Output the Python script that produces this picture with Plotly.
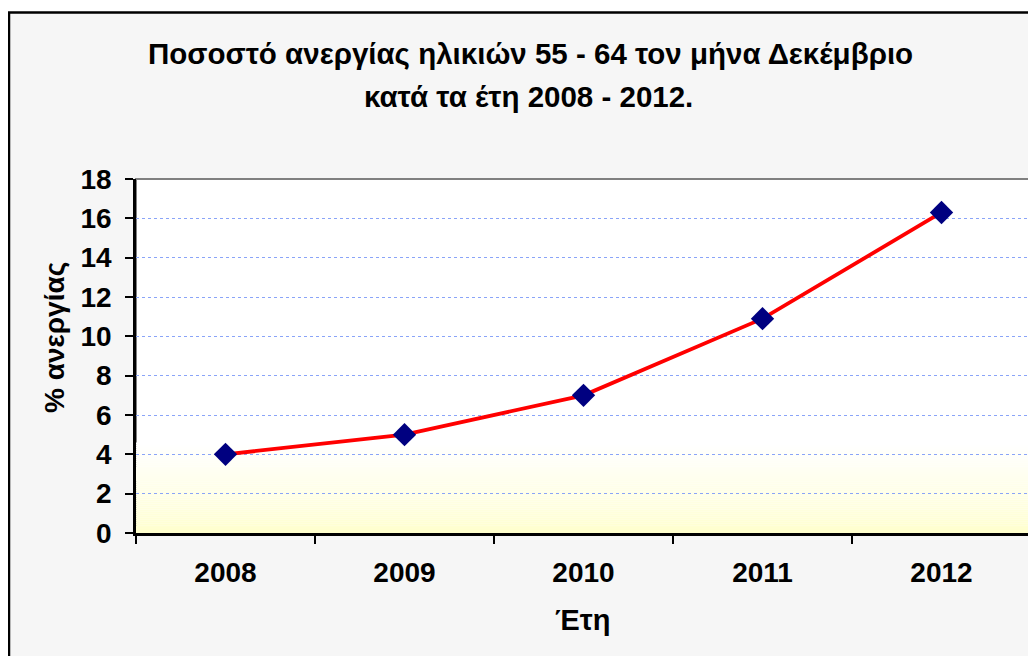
import plotly.graph_objects as go

years = ["2008", "2009", "2010", "2011", "2012"]
rates = [4.0, 5.0, 7.0, 10.9, 16.3]
y_ticks = [0, 2, 4, 6, 8, 10, 12, 14, 16, 18]

title_line1 = "Ποσοστό ανεργίας ηλικιών 55 - 64 τον μήνα Δεκέμβριο"
title_line2 = "κατά τα έτη 2008 - 2012."
y_title = "% ανεργίας"
x_title = "Έτη"

# the page body adds an 8px offset; positions below are in figure pixels
OFF = 8
W, H = 1036, 656
L, R, T, B = 136 - OFF, 1031 - OFF, 179 - OFF, 533 - OFF
FONT = "Liberation Sans, Arial, sans-serif"


def px(x):
    return (x - OFF - L) / (R - L)


def py(y):
    return (B - (y - OFF)) / (B - T)


fig = go.Figure()
fig.add_trace(go.Scatter(
    x=years, y=rates, mode="lines+markers",
    line=dict(color="#ff0000", width=3.8),
    marker=dict(symbol="diamond", size=18, color="#000080",
                line=dict(width=0)),
    showlegend=False, cliponaxis=False,
))

shapes = [
    dict(type="rect", xref="paper", yref="paper", layer="below",
         x0=px(9), x1=px(1060), y0=py(680), y1=py(12.5),
         fillcolor="#f6f6f6", line=dict(color="black", width=2.5)),
    dict(type="rect", xref="paper", yref="paper", layer="below",
         x0=0, x1=1, y0=0, y1=1,
         fillcolor="white", line=dict(color="#808080", width=2)),
]
nb = 46
top = 4.6
for i in range(nb):
    t = i / (nb - 1)
    b = int(round(204 + (255 - 204) * (t ** 0.8)))
    shapes.append(dict(type="rect", xref="paper", yref="y", layer="below",
                       x0=0, x1=1, y0=top * i / nb, y1=top * (i + 1) / nb,
                       fillcolor=f"rgb(255,255,{b})", line=dict(width=0)))

annotations = [
    dict(text=f"<b>{title_line1}</b>", x=px(530), y=py(53), xref="paper", yref="paper",
         showarrow=False, font=dict(family=FONT, size=29.5, color="black"),
         xanchor="center", yanchor="middle"),
    dict(text=f"<b>{title_line2}</b>", x=px(528), y=py(96), xref="paper", yref="paper",
         showarrow=False, font=dict(family=FONT, size=29.5, color="black"),
         xanchor="center", yanchor="middle"),
    dict(text=f"<b>{x_title}</b>", x=px(582), y=py(620), xref="paper", yref="paper",
         showarrow=False, font=dict(family=FONT, size=29, color="black"),
         xanchor="center", yanchor="middle"),
    dict(text=f"<b>{y_title}</b>", x=px(54), y=py(338), xref="paper", yref="paper",
         showarrow=False, textangle=-90, font=dict(family=FONT, size=28, color="black"),
         xanchor="center", yanchor="middle"),
]

fig.update_layout(
    width=W, height=H,
    margin=dict(l=L, r=W - R, t=T, b=H - B, pad=0, autoexpand=False),
    paper_bgcolor="white", plot_bgcolor="rgba(0,0,0,0)",
    shapes=shapes, annotations=annotations,
    font=dict(family=FONT, color="black"),
    xaxis=dict(type="category", range=[-0.5, 4.5], tickson="boundaries",
               ticks="outside", ticklen=8, tickwidth=2, tickcolor="black",
               showline=True, linecolor="black", linewidth=2.5,
               showgrid=False, zeroline=False, automargin=False,
               tickfont=dict(family=FONT, size=28, color="black", weight="bold"),
               ticklabelstandoff=13),
    yaxis=dict(range=[0, 18], tickvals=y_ticks,
               ticks="outside", ticklen=8, tickwidth=2, tickcolor="black",
               showline=True, linecolor="black", linewidth=2.5,
               showgrid=True, gridcolor="#8aa4f8", griddash="dot", gridwidth=1,
               zeroline=False, automargin=False,
               tickfont=dict(family=FONT, size=28, color="black", weight="bold"),
               ticklabelstandoff=8),
)

fig.write_html("out.html")
